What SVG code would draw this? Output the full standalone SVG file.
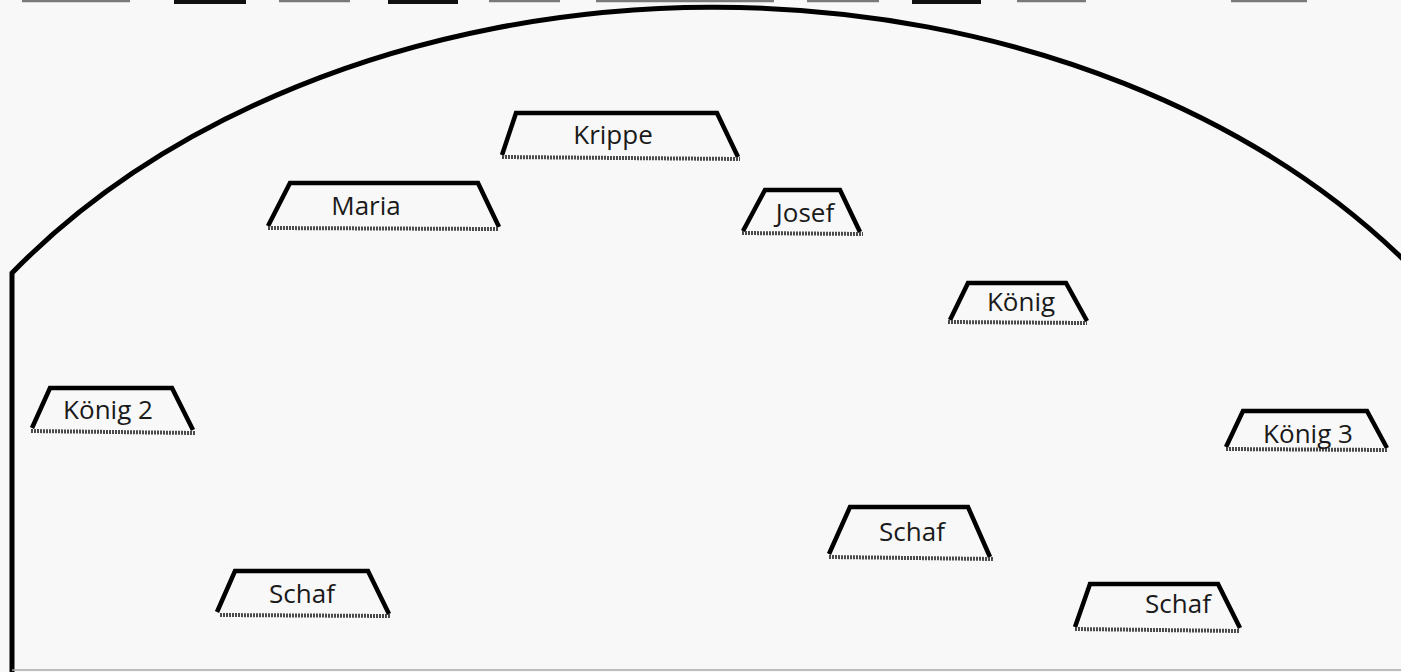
<svg xmlns="http://www.w3.org/2000/svg" width="1401" height="672" viewBox="0 0 1401 672">
<defs>
<style>
.bg{fill:#f8f8f8}
.wall{fill:none;stroke:#000;stroke-width:5}
.edge{fill:#f8f8f8;stroke:#000;stroke-width:4.5;stroke-linejoin:miter}
.hatch{stroke:#4a4a4a;stroke-width:4;stroke-dasharray:2 1;fill:none}
.lbl{font-family:"Open Sans","Liberation Sans",sans-serif;font-size:26px;fill:#1a1a1a;text-anchor:middle}
.topthin{stroke:#7a7a7a;stroke-width:2.5}
.topthick{stroke:#111;stroke-width:6}
</style>
</defs>
<rect class="bg" x="0" y="0" width="1401" height="672"/>
<g id="top-edge">
<line class="topthin" x1="22" y1="1" x2="130" y2="1"/>
<line class="topthick" x1="174" y1="1" x2="246" y2="1"/>
<line class="topthin" x1="279" y1="1" x2="350" y2="1"/>
<line class="topthick" x1="388" y1="1" x2="458" y2="1"/>
<line class="topthin" x1="489" y1="1" x2="560" y2="1"/>
<line class="topthin" x1="596" y1="1" x2="774" y2="1"/>
<line class="topthin" x1="807" y1="1" x2="879" y2="1"/>
<line class="topthick" x1="912" y1="1" x2="981" y2="1"/>
<line class="topthin" x1="1017" y1="1" x2="1086" y2="1"/>
<line class="topthin" x1="1231" y1="1" x2="1307" y2="1"/>
</g>
<g id="stage">
<path class="wall" d="M12 672 L12 273 A866 640 0 0 1 1412 268"/>
<line x1="12" y1="670" x2="1401" y2="670" stroke="#aaa" stroke-width="1.5"/>
</g>
<g id="krippe">
<path class="edge" d="M502 155 L516 113 L717 113 L738 157"/>
<line class="hatch" x1="502" y1="157" x2="740" y2="159"/>
<text class="lbl" x="613" y="144">Krippe</text>
</g>
<g id="maria">
<path class="edge" d="M268 226 L290 183 L478 183 L499 227"/>
<line class="hatch" x1="268" y1="228" x2="499" y2="229"/>
<text class="lbl" x="366" y="215">Maria</text>
</g>
<g id="josef">
<path class="edge" d="M743 231 L765 190 L840 190 L860 232"/>
<line class="hatch" x1="742" y1="233" x2="863" y2="234"/>
<text class="lbl" x="805" y="222">Josef</text>
</g>
<g id="koenig">
<path class="edge" d="M950 320 L968 283 L1066 283 L1087 321"/>
<line class="hatch" x1="948" y1="322" x2="1087" y2="323"/>
<text class="lbl" x="1021" y="311">König</text>
</g>
<g id="koenig2">
<path class="edge" d="M32 428 L50 388 L172 388 L193 430"/>
<line class="hatch" x1="31" y1="431" x2="195" y2="433"/>
<text class="lbl" x="108" y="419">König 2</text>
</g>
<g id="koenig3">
<path class="edge" d="M1226 447 L1243 411 L1367 411 L1387 448"/>
<line class="hatch" x1="1226" y1="449" x2="1387" y2="450"/>
<text class="lbl" x="1308" y="443">König 3</text>
</g>
<g id="schaf1">
<path class="edge" d="M829 554 L850 507 L968 507 L990 557"/>
<line class="hatch" x1="829" y1="557" x2="993" y2="559"/>
<text class="lbl" x="912" y="541">Schaf</text>
</g>
<g id="schaf2">
<path class="edge" d="M217 612 L235 571 L368 571 L389 614"/>
<line class="hatch" x1="220" y1="615" x2="390" y2="616"/>
<text class="lbl" x="302" y="603">Schaf</text>
</g>
<g id="schaf3">
<path class="edge" d="M1075 627 L1090 584 L1218 584 L1240 628"/>
<line class="hatch" x1="1075" y1="629" x2="1240" y2="631"/>
<text class="lbl" x="1178" y="613">Schaf</text>
</g>
</svg>
